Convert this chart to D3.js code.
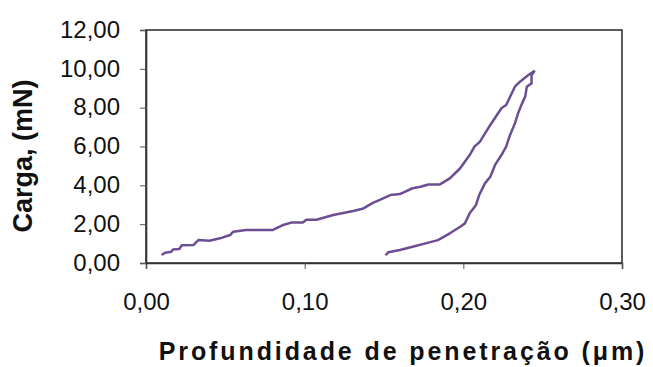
<!DOCTYPE html>
<html>
<head>
<meta charset="utf-8">
<script src="https://cdn.jsdelivr.net/npm/d3@7"></script>
<style>
  body { margin: 0; background: #fff; }
  svg { display: block; }
</style>
</head>
<body>
<svg id="chart" width="653" height="367"></svg>
<script>
// load curve (depth in um, load in mN)
const loadDepth = [0.0099, 0.012, 0.016, 0.017, 0.021, 0.0225, 0.030, 0.033, 0.040, 0.0466, 0.053, 0.055, 0.063, 0.080, 0.0865, 0.092, 0.099, 0.101, 0.1075, 0.118, 0.1306, 0.137, 0.143, 0.147, 0.154, 0.160, 0.168, 0.173, 0.178, 0.185, 0.1915, 0.198, 0.204, 0.207, 0.2105, 0.217, 0.224, 0.227, 0.2325, 0.2357, 0.241, 0.245];
const loadForce = [0.41, 0.53, 0.58, 0.70, 0.72, 0.91, 0.93, 1.18, 1.15, 1.27, 1.44, 1.61, 1.70, 1.70, 1.96, 2.09, 2.09, 2.23, 2.23, 2.47, 2.68, 2.81, 3.10, 3.24, 3.50, 3.55, 3.85, 3.93, 4.04, 4.04, 4.36, 4.88, 5.56, 5.99, 6.25, 7.11, 7.97, 8.14, 9.08, 9.34, 9.68, 9.90];

// unload curve
const unloadDepth = [0.245, 0.243, 0.243, 0.240, 0.239, 0.237, 0.2345, 0.2325, 0.229, 0.227, 0.224, 0.220, 0.217, 0.2136, 0.210, 0.208, 0.204, 0.201, 0.198, 0.1915, 0.184, 0.178, 0.168, 0.160, 0.1527, 0.151];
const unloadForce = [9.90, 9.68, 9.25, 9.08, 8.57, 8.22, 7.71, 7.19, 6.50, 5.99, 5.56, 5.05, 4.44, 4.10, 3.50, 2.99, 2.56, 2.04, 1.87, 1.53, 1.18, 1.05, 0.84, 0.67, 0.55, 0.41];

const xTicks = [0, 0.1, 0.2, 0.3];
const yTicks = [0, 2, 4, 6, 8, 10, 12];

const svg = d3.select('#chart');
const m = { left: 146, right: 622, top: 30, bottom: 263 };
const font = 'Liberation Sans, Arial, sans-serif';

const x = d3.scaleLinear().domain([0, 0.3]).range([m.left, m.right]);
const y = d3.scaleLinear().domain([0, 12]).range([m.bottom, m.top]);
const fmt = d => d3.format('.2f')(d).replace('.', ',');

svg.append('rect')
    .attr('x', m.left).attr('y', m.top)
    .attr('width', m.right - m.left).attr('height', m.bottom - m.top)
    .attr('fill', '#fff')
    .attr('stroke', '#333')
    .attr('stroke-width', 1.6);

const xAxis = svg.append('g')
    .attr('transform', `translate(0,${m.bottom})`)
    .call(d3.axisBottom(x).tickValues(xTicks).tickFormat(fmt).tickSize(6).tickPadding(24));

const yAxis = svg.append('g')
    .attr('transform', `translate(${m.left},0)`)
    .call(d3.axisLeft(y).tickValues(yTicks).tickFormat(fmt).tickSize(6).tickPadding(20));

[xAxis, yAxis].forEach(a => {
    a.select('.domain').attr('stroke', '#333').attr('stroke-width', 1.6);
    a.selectAll('.tick line').attr('stroke', '#555');
    a.selectAll('.tick text')
        .attr('font-family', font)
        .attr('font-size', '24px')
        .attr('fill', '#111');
});
yAxis.selectAll('.tick text').attr('dy', '0.3em');

const line = d3.line()
    .x(d => x(d[0]))
    .y(d => y(d[1]));

const loadPts = loadDepth.map((d, i) => [d, loadForce[i]]);
const unloadPts = unloadDepth.map((d, i) => [d, unloadForce[i]]);

[loadPts, unloadPts].forEach(pts => {
    svg.append('path')
        .datum(pts)
        .attr('d', line)
        .attr('fill', 'none')
        .attr('stroke', '#6b4f92')
        .attr('stroke-width', 2.5)
        .attr('stroke-linejoin', 'round');
});

svg.append('text')
    .attr('transform', 'translate(32,156) rotate(-90)')
    .attr('text-anchor', 'middle')
    .attr('font-family', font)
    .attr('font-size', '27px')
    .attr('font-weight', 'bold')
    .attr('fill', '#111')
    .text('Carga, (mN)');

svg.append('text')
    .attr('x', 403)
    .attr('y', 360)
    .attr('text-anchor', 'middle')
    .attr('font-family', font)
    .attr('font-size', '25px')
    .attr('font-weight', 'bold')
    .attr('letter-spacing', '2.9px')
    .attr('fill', '#111')
    .text('Profundidade de penetração (μm)');
</script>
</body>
</html>
